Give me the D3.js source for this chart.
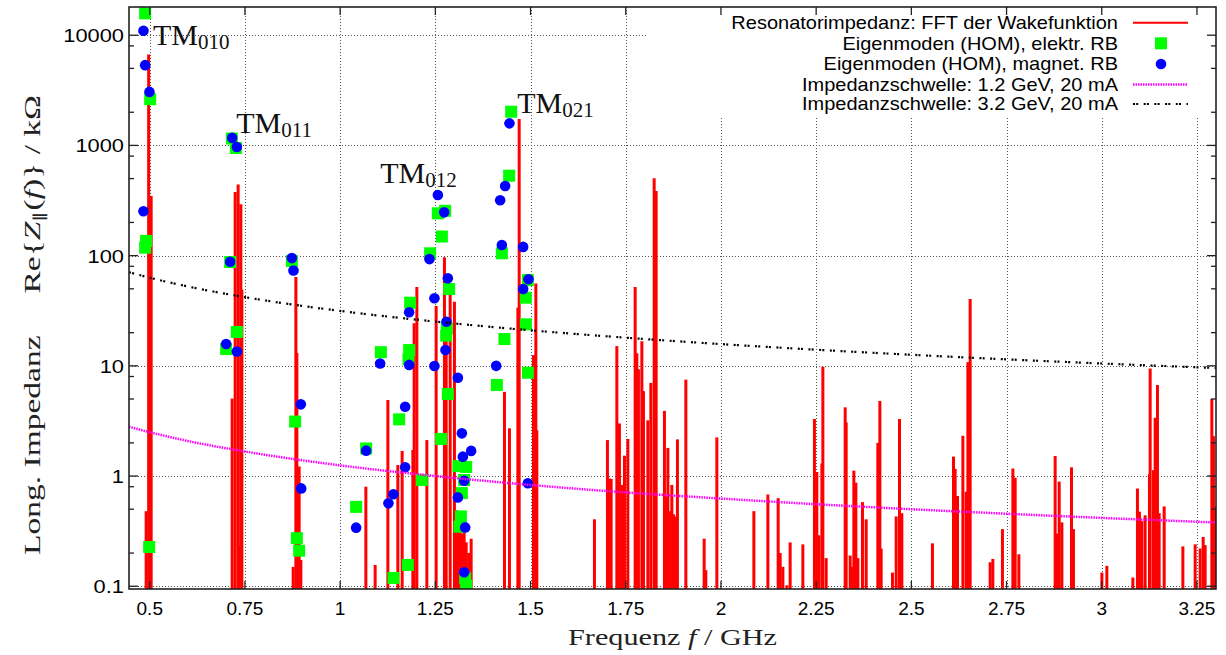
<!DOCTYPE html>
<html><head><meta charset="utf-8">
<script src="https://cdn.jsdelivr.net/npm/d3@7"></script>
<style>body{margin:0;background:#fff;} svg{display:block;}</style>
</head><body><svg id="c" width="1226" height="655"></svg>
<script>
// ---------- data ----------
const xTicks = [0.5, 0.75, 1, 1.25, 1.5, 1.75, 2, 2.25, 2.5, 2.75, 3, 3.25];
const xTickLabels = ["0.5", "0.75", "1", "1.25", "1.5", "1.75", "2", "2.25", "2.5", "2.75", "3", "3.25"];
const yTicks = [0.1, 1, 10, 100, 1000, 10000];
const yTickLabels = ["0.1", "1", "10", "100", "1000", "10000"];
const seriesNames = [
  "Resonatorimpedanz: FFT der Wakefunktion",
  "Eigenmoden (HOM), elektr. RB",
  "Eigenmoden (HOM), magnet. RB",
  "Impedanzschwelle: 1.2 GeV, 20 mA",
  "Impedanzschwelle: 3.2 GeV, 20 mA"
];
// FFT of wake function (impulses), frequency in GHz, Re{Z} in kOhm
const fftFreq = [0.4905, 0.4971, 0.5037, 0.7164, 0.7243, 0.7321, 0.7348, 0.7392, 0.7419,
  0.8766, 0.8837, 0.8863, 0.8923, 0.8968, 1.0675, 1.0919, 1.1253, 1.1515, 1.1628, 1.1909,
  1.1943, 1.2014, 1.2277, 1.2521, 1.2739, 1.2784, 1.2889, 1.3001, 1.3046, 1.3099, 1.3151,
  1.3204, 1.3256, 1.3309, 1.3374, 1.3440, 1.4315, 1.4446, 1.4667, 1.4701, 1.5076, 1.5139,
  1.5165, 1.6678, 1.7019, 1.7072, 1.7116, 1.7266, 1.7334, 1.7397, 1.7466, 1.7555, 1.7747,
  1.7791, 1.7833, 1.7923, 1.7965, 1.8080, 1.8159, 1.8246, 1.8298, 1.8516, 1.8561, 1.8606,
  1.8647, 1.8710, 1.8752, 1.8797, 1.8857, 1.9078, 1.9559, 1.9603, 1.9892, 2.0864, 2.1232,
  2.1502, 2.1555, 2.1626, 2.1731, 2.1817, 2.2151, 2.2455, 2.2518, 2.2571, 2.2650, 2.2676,
  2.2763, 2.3262, 2.3288, 2.3393, 2.3438, 2.3490, 2.3543, 2.3595, 2.3716, 2.3813, 2.4120,
  2.4173, 2.4207, 2.4504, 2.4601, 2.4688, 2.4750, 2.5554, 2.6106, 2.6150, 2.6211, 2.6353,
  2.6439, 2.6484, 2.6544, 2.7069, 2.7140, 2.7392, 2.7666, 2.7726, 2.7823, 2.8776, 2.8829,
  2.8882, 2.8953, 2.9205, 2.9257, 3.0003, 3.0134, 3.0817, 3.0937, 3.0990, 3.1053, 3.1139,
  3.1252, 3.1271, 3.1358, 3.1402, 3.1463, 3.1507, 3.1639, 3.2130, 3.2453, 3.2584, 3.2663,
  3.2715, 3.2891, 3.2933, 3.2997];
const fftZ = [0.48, 6700, 347, 5.04, 378, 443, 0.233, 292, 49,
  0.15, 64, 13.1, 1.22, 0.173, 0.8, 0.156, 4.9, 1.26, 1.69, 1.72,
  24.3, 52, 2.12, 34.9, 96.6, 19.8, 54, 38.2, 0.49, 0.35, 0.42,
  0.3, 0.45, 0.25, 0.2, 0.27, 5.8, 2.71, 33.7, 1740, 12.5, 56,
  2.6, 0.405, 2.12, 0.95, 0.94, 15.1, 3.0, 0.83, 1.53, 2.17, 52,
  13, 9.3, 16.7, 5.9, 3.2, 7.0, 503, 386, 3.9, 0.65, 1.8,
  0.48, 0.83, 0.45, 0.43, 2.15, 7.5, 0.27, 0.14, 2.24, 0.48, 0.68,
  0.63, 0.2, 0.15, 0.102, 0.25, 0.24, 3.29, 1.09, 0.29, 1.3, 9.8,
  0.18, 4.2, 3.07, 0.19, 0.15, 1.12, 0.87, 0.18, 0.58, 0.405, 2.0,
  4.8, 0.22, 0.133, 0.43, 3.29, 0.46, 0.245, 1.5, 1.16, 0.66, 2.32,
  0.72, 10.8, 40.4, 0.165, 0.177, 0.33, 1.17, 0.965, 0.195, 1.52, 0.3,
  0.89, 0.38, 1.2, 0.33, 0.133, 0.153, 0.12, 0.77, 0.475, 0.39, 0.44,
  1.04, 9.45, 1.13, 3.38, 6.7, 0.46, 0.53, 0.23, 0.24, 0.22, 0.28,
  0.236, 5.0, 2.3, 0.53];
// Eigenmodes, electric boundary
const elFreq = [0.4879, 0.5011, 0.4905, 0.4879, 0.4984, 0.7156, 0.7261, 0.7111, 0.7287, 0.7006,
  0.8732, 0.8818, 0.8863, 0.8923, 1.0683, 1.0420, 1.1069, 1.1400, 1.1549, 1.2145, 1.1778,
  1.1838, 1.1812, 1.1794, 1.2363, 1.2566, 1.2757, 1.2671, 1.2862, 1.2802, 1.2784, 1.2828,
  1.2652, 1.3106, 1.3309, 1.3256, 1.3196, 1.3170, 1.3133, 1.3283, 1.3309, 1.4246, 1.4438,
  1.4491, 1.4929, 1.4877, 1.4877, 1.4315, 1.4115, 1.4929];
const elZ = [15800, 2625, 136, 118, 0.227, 1155, 947, 87.5, 20.3, 14.2,
  89.3, 3.12, 0.273, 0.21, 1.78, 0.525, 13.3, 0.119, 3.27, 0.92, 0.156,
  37.4, 13.9, 11.5, 105, 242, 255, 149, 49.8, 21.9, 18.8, 5.55,
  2.17, 1.23, 1.21, 0.92, 0.70, 0.43, 0.347, 0.118, 0.101, 105, 531,
  2022, 60, 41.5, 23.8, 17.5, 6.7, 8.65];
// Eigenmodes, magnetic boundary
const magFreq = [0.4835, 0.4879, 0.4992, 0.4835, 0.7164, 0.7287, 0.7111, 0.7006, 0.7287,
  0.8732, 0.8774, 0.8968, 0.8976, 1.0683, 1.0420, 1.1050, 1.1268, 1.1400, 1.1707, 1.1707,
  1.1812, 1.1812, 1.2345, 1.2476, 1.2476, 1.2566, 1.2731, 1.2828, 1.2792, 1.2765, 1.3091,
  1.3196, 1.3222, 1.3440, 1.3256, 1.3091, 1.3283, 1.3256, 1.4246, 1.4202, 1.4333, 1.4446,
  1.4806, 1.4945, 1.4806, 1.4097, 1.4929];
const magZ = [10990, 5350, 3060, 253, 1170, 967, 88, 15.8, 13.5,
  95, 73.3, 4.47, 0.772, 1.7, 0.34, 10.5, 0.565, 0.683, 4.25, 1.2,
  30.6, 10.2, 93, 41, 9.96, 355, 247, 62.2, 25.1, 13.9, 7.8,
  2.44, 1.5, 1.69, 0.906, 0.64, 0.342, 0.134, 125, 318, 428, 1585,
  120, 61, 49.8, 10, 0.86];
// Impedance thresholds
const thrFreq = [0.4455, 0.5, 0.6, 0.75, 1.0, 1.25, 1.5, 1.75, 2.0, 2.25, 2.5, 2.75, 3.0, 3.3];
const thr12 = [2.8, 2.5, 2.08, 1.67, 1.25, 1.0, 0.83, 0.71, 0.625, 0.555, 0.5, 0.455, 0.417, 0.379];
const thr32 = [70.7, 63, 52.5, 42, 31.5, 25.2, 21, 18, 15.75, 14, 12.6, 11.45, 10.5, 9.55];
// Mode annotations
const tmSubs = ["010", "011", "012", "021"];
const tmFreq = [0.5086, 0.7269, 1.105, 1.4648];
const tmZ = [8150, 1297, 453, 1955];

// ---------- chart ----------
const L = 129, R = 1216, T = 7, B = 589;
const svg = d3.select("#c");
const x = d3.scaleLinear().domain([0.4455, 3.3]).range([L, R]);
const y = d3.scaleLog().domain([0.0944, 18030]).range([B, T]);
const sans = "'Liberation Sans', Arial, sans-serif";
const serif = "'Liberation Serif', 'Times New Roman', serif";

svg.append("defs").append("clipPath").attr("id", "clip")
  .append("rect").attr("x", L).attr("y", T).attr("width", R - L).attr("height", B - T);

// grid
const grid = svg.append("g").attr("stroke", "#555").attr("stroke-width", 1).attr("stroke-dasharray", "1,2").attr("shape-rendering", "crispEdges");
xTicks.forEach(t => grid.append("line").attr("x1", Math.round(x(t)) + 0.5).attr("x2", Math.round(x(t)) + 0.5).attr("y1", T).attr("y2", B));
yTicks.forEach(t => grid.append("line").attr("x1", L).attr("x2", R).attr("y1", Math.round(y(t)) + 0.5).attr("y2", Math.round(y(t)) + 0.5));

// legend background (covers grid)
svg.append("rect").attr("x", 647).attr("y", T + 1).attr("width", R - 647 - 1).attr("height", 108).attr("fill", "#fff");

const plot = svg.append("g").attr("clip-path", "url(#clip)");
// impulses
plot.append("g").selectAll("line").data(fftFreq.map((f, i) => [f, fftZ[i]])).join("line")
  .attr("x1", d => x(d[0])).attr("x2", d => x(d[0]))
  .attr("y1", B).attr("y2", d => y(d[1]))
  .attr("stroke", "#ff0000").attr("stroke-width", 3);
// green squares
plot.append("g").selectAll("rect").data(elFreq.map((f, i) => [f, elZ[i]])).join("rect")
  .attr("x", d => x(d[0]) - 6).attr("y", d => y(d[1]) - 6).attr("width", 12).attr("height", 12)
  .attr("fill", "#00ff00");
// blue circles
plot.append("g").selectAll("circle").data(magFreq.map((f, i) => [f, magZ[i]])).join("circle")
  .attr("cx", d => x(d[0])).attr("cy", d => y(d[1])).attr("r", 5.3)
  .attr("fill", "#0000ff");
// thresholds
const line = d3.line().x(d => x(d[0])).y(d => y(d[1])).curve(d3.curveMonotoneX);
plot.append("path").datum(thrFreq.map((f, i) => [f, thr12[i]])).attr("d", line)
  .attr("fill", "none").attr("stroke", "#ff00ff").attr("stroke-width", 2.5).attr("stroke-dasharray", "1.5,1");
plot.append("path").datum(thrFreq.map((f, i) => [f, thr32[i]])).attr("d", line)
  .attr("fill", "none").attr("stroke", "#000").attr("stroke-width", 2.2).attr("stroke-dasharray", "2,1.2,2,5.5");

// frame & ticks
const ax = svg.append("g").attr("stroke", "#222").attr("stroke-width", 1.3);
xTicks.forEach(t => {
  const xx = x(t);
  ax.append("line").attr("x1", xx).attr("x2", xx).attr("y1", B).attr("y2", B - 8);
  ax.append("line").attr("x1", xx).attr("x2", xx).attr("y1", T).attr("y2", T + 8);
});
yTicks.forEach(t => {
  const yy = y(t);
  ax.append("line").attr("x1", L).attr("x2", L + 9).attr("y1", yy).attr("y2", yy);
  ax.append("line").attr("x1", R).attr("x2", R - 9).attr("y1", yy).attr("y2", yy);
  [2, 5, 8].forEach(m => {
    const v = t * m;
    if (v > y.domain()[1]) return;
    const ym = y(v);
    ax.append("line").attr("x1", L).attr("x2", L + 5).attr("y1", ym).attr("y2", ym);
    ax.append("line").attr("x1", R).attr("x2", R - 5).attr("y1", ym).attr("y2", ym);
  });
});
svg.append("rect").attr("x", L).attr("y", T).attr("width", R - L).attr("height", B - T)
  .attr("fill", "none").attr("stroke", "#222").attr("stroke-width", 1.6);

// tick labels
xTicks.forEach((t, i) => svg.append("text").attr("x", x(t)).attr("y", 615)
  .attr("text-anchor", "middle").attr("font-family", sans).attr("font-size", 19).attr("fill", "#000").text(xTickLabels[i]));
yTicks.forEach((t, i) => svg.append("text")
  .attr("transform", `translate(124,${y(t) + 7}) scale(1.15,1)`)
  .attr("text-anchor", "end").attr("font-family", sans).attr("font-size", 19).attr("fill", "#000").text(yTickLabels[i]));

// axis titles
const xt = svg.append("text").attr("x", (L + R) / 2 - 104.5).attr("y", 645)
  .attr("textLength", 209).attr("lengthAdjust", "spacingAndGlyphs")
  .attr("font-family", serif).attr("font-size", 24).attr("fill", "#222");
xt.append("tspan").text("Frequenz ");
xt.append("tspan").attr("font-style", "italic").text("f");
xt.append("tspan").text("  /  GHz");

const yt = svg.append("text").attr("transform", `translate(40,325) rotate(-90)`)
  .attr("x", -230).attr("textLength", 460).attr("lengthAdjust", "spacingAndGlyphs")
  .attr("font-family", serif).attr("font-size", 24).attr("fill", "#222");
yt.append("tspan").text("Long. Impedanz\u2003 Re{");
yt.append("tspan").attr("font-style", "italic").text("Z");
yt.append("tspan").attr("font-size", 15).attr("dy", 4).text("\u2225");
yt.append("tspan").attr("dy", -4).text("(");
yt.append("tspan").attr("font-style", "italic").text("f");
yt.append("tspan").text(")}  /  k\u03A9");

// mode annotations
tmSubs.forEach((s, i) => {
  const t = svg.append("text").attr("x", x(tmFreq[i])).attr("y", y(tmZ[i]))
    .attr("font-family", serif).attr("font-size", 30).attr("fill", "#111");
  t.append("tspan").text("TM");
  t.append("tspan").attr("font-size", 21).attr("dy", 4).text(s);
});

// legend
const lg = svg.append("g");
const rowY = [22.7, 43.3, 64, 84.5, 104];
seriesNames.forEach((n, i) => lg.append("text")
  .attr("transform", `translate(1118,${rowY[i] + 6.3}) scale(1.13,1)`)
  .attr("text-anchor", "end").attr("font-family", sans).attr("font-size", 17.7).attr("fill", "#000").text(n));
lg.append("line").attr("x1", 1133).attr("x2", 1188).attr("y1", rowY[0]).attr("y2", rowY[0]).attr("stroke", "#ff0000").attr("stroke-width", 2);
lg.append("rect").attr("x", 1155).attr("y", rowY[1] - 6).attr("width", 12).attr("height", 12).attr("fill", "#00ff00");
lg.append("circle").attr("cx", 1161).attr("cy", rowY[2]).attr("r", 5.3).attr("fill", "#0000ff");
lg.append("line").attr("x1", 1133).attr("x2", 1188).attr("y1", rowY[3]).attr("y2", rowY[3]).attr("stroke", "#ff00ff").attr("stroke-width", 2.5).attr("stroke-dasharray", "1.5,1");
lg.append("line").attr("x1", 1133).attr("x2", 1188).attr("y1", rowY[4]).attr("y2", rowY[4]).attr("stroke", "#000").attr("stroke-width", 2.2).attr("stroke-dasharray", "2,1.2,2,5.5");
</script></body></html>
